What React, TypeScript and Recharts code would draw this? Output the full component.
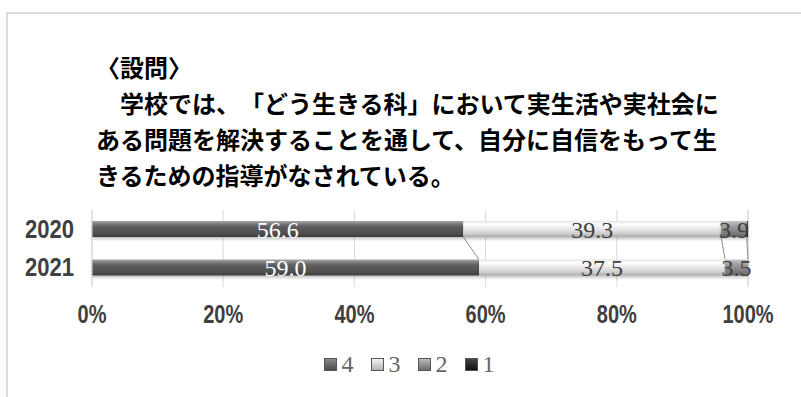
import { BarChart, Bar, XAxis, YAxis, CartesianGrid, Legend, LabelList } from "recharts";

const years = ["2020", "2021"];
const s4 = [56.6, 59.0];
const s3 = [39.3, 37.5];
const s2 = [3.9, 3.5];
const s1 = [0.2, 0.0];
const seriesKeys = ["4", "3", "2", "1"];
const xTicks = [0, 20, 40, 60, 80, 100];

const questionLines = [
  "〈設問〉",
  "\u3000学校では、「どう生きる科」において実生活や実社会に",
  "ある問題を解決することを通して、自分に自信をもって生",
  "きるための指導がなされている。",
];

const data = years.map((year, i) => ({
  year,
  "4": s4[i],
  "3": s3[i],
  "2": s2[i],
  "1": s1[i],
}));

const W = 801;
const H = 397;
const PLOT_TOP = 210;
const PLOT_H = 77;
const BAR = 16;

const fills: Record<string, string> = {
  "4": "url(#g4)",
  "3": "url(#g3)",
  "2": "url(#g2)",
  "1": "url(#g1)",
};

const legendFills: Record<string, string> = {
  "4": "linear-gradient(#8a8a8a, #4a4a4a)",
  "3": "linear-gradient(#f4f4f4, #b4b4b4)",
  "2": "linear-gradient(#bcbcbc, #6a6a6a)",
  "1": "linear-gradient(#444, #111)",
};

const axisFont = '"Liberation Sans", Arial, sans-serif';

// narrow bold tick text, like the condensed font in the original
const NarrowTick = (props: any) => {
  const { x, y, payload, anchor, fmt, sx, shiftY = 0 } = props;
  const label = fmt ? fmt(payload.value) : payload.value;
  return (
    <text
      transform={`translate(${x},${y + shiftY}) scale(${sx},1)`}
      textAnchor={anchor}
      dominantBaseline="central"
      fill="#404040"
      fontSize={25}
      fontWeight={700}
      fontFamily={axisFont}
    >
      {label}
    </text>
  );
};

// bar with an Excel-style series line to the next category
const makeShape = (key: string) => (props: any) => {
  const { x, y, width, height, payload, index, fill } = props;
  const ki = seriesKeys.indexOf(key);
  const val = payload[key];
  let line = null;
  if (index < data.length - 1 && val > 0 && key !== "1") {
    const k = width / val;
    const before = seriesKeys.slice(0, ki).reduce((s, kk) => s + payload[kk], 0);
    const x0 = x - before * k;
    const next = data[index + 1];
    const nextEnd = seriesKeys.slice(0, ki + 1).reduce((s, kk) => s + (next as any)[kk], 0);
    const gap = PLOT_H / data.length - height;
    line = (
      <line
        x1={x + width}
        y1={y + height}
        x2={x0 + nextEnd * k}
        y2={y + height + gap}
        stroke="#8c8c8c"
        strokeWidth={1}
      />
    );
  }
  return (
    <g>
      <rect x={x} y={y} width={Math.max(width, 0)} height={height} fill={fill} filter="url(#sh)" />
      {line}
    </g>
  );
};

const LegendContent = () => (
  <div style={{ display: "flex", justifyContent: "center", gap: 17 }}>
    {seriesKeys.map((k) => (
      <span key={k} style={{ display: "flex", alignItems: "center" }}>
        <span
          style={{
            width: 13,
            height: 13,
            background: legendFills[k],
            border: "1px solid #555",
            boxSizing: "border-box",
            marginRight: 5,
          }}
        />
        <span style={{ fontFamily: '"Liberation Serif", serif', fontSize: 24, color: "#666", lineHeight: "26px" }}>{k}</span>
      </span>
    ))}
  </div>
);

export default function App() {
  return (
    <div style={{ position: "absolute", left: 0, top: 0, width: W, height: H, background: "#fff", overflow: "hidden" }}>
      <div
        style={{
          position: "absolute",
          left: 6,
          top: 12,
          width: W,
          height: H,
          borderLeft: "2px solid #dcdcdc",
          borderTop: "2px solid #dcdcdc",
        }}
      />
      <div
        style={
          {
            position: "absolute",
            left: 96,
            top: 49,
            fontFamily: '"Noto Sans CJK JP", sans-serif',
            fontWeight: 700,
            fontSize: 24,
            lineHeight: "36px",
            color: "#000",
            whiteSpace: "pre",
            textSpacingTrim: "space-all",
            fontFeatureSettings: '"chws" 0, "halt" 0, "palt" 0',
          } as any
        }
      >
        {questionLines.map((t, i) => (
          <div key={i}>{t}</div>
        ))}
      </div>
      <BarChart
        width={W}
        height={H}
        data={data}
        layout="vertical"
        margin={{ top: PLOT_TOP, right: 53, bottom: H - PLOT_TOP - PLOT_H - 40, left: 0 }}
        barSize={BAR}
        style={{ position: "absolute", left: 0, top: 0 }}
      >
        <defs>
          <linearGradient id="g4" x1="0" y1="0" x2="0" y2="1">
            <stop offset="0" stopColor="#a8a8a8" />
            <stop offset="0.18" stopColor="#7c7c7c" />
            <stop offset="0.35" stopColor="#5e5e5e" />
            <stop offset="0.8" stopColor="#4e4e4e" />
            <stop offset="1" stopColor="#3a3a3a" />
          </linearGradient>
          <linearGradient id="g3" x1="0" y1="0" x2="0" y2="1">
            <stop offset="0" stopColor="#e4e4e4" />
            <stop offset="0.2" stopColor="#ffffff" />
            <stop offset="0.45" stopColor="#ebebeb" />
            <stop offset="0.8" stopColor="#cdcdcd" />
            <stop offset="1" stopColor="#a9a9a9" />
          </linearGradient>
          <linearGradient id="g2" x1="0" y1="0" x2="0" y2="1">
            <stop offset="0" stopColor="#c4c4c4" />
            <stop offset="0.35" stopColor="#9a9a9a" />
            <stop offset="1" stopColor="#676767" />
          </linearGradient>
          <linearGradient id="g1" x1="0" y1="0" x2="0" y2="1">
            <stop offset="0" stopColor="#555" />
            <stop offset="1" stopColor="#111" />
          </linearGradient>
          <filter id="sh" x="-5%" y="-30%" width="110%" height="180%">
            <feDropShadow dx="0" dy="2" stdDeviation="1.5" floodColor="#000" floodOpacity="0.25" />
          </filter>
        </defs>
        <CartesianGrid horizontal={false} stroke="#d9d9d9" />
        <XAxis
          type="number"
          domain={[0, 100]}
          ticks={xTicks}
          axisLine={false}
          tickLine={false}
          height={40}
          tick={<NarrowTick anchor="middle" sx={0.8} shiftY={20} fmt={(v: number) => `${v}%`} />}
        />
        <YAxis
          type="category"
          dataKey="year"
          width={92}
          axisLine={{ stroke: "#d9d9d9" }}
          tickLine={false}
          tickMargin={12}
          tick={<NarrowTick anchor="end" sx={0.88} />}
        />
        <Legend
          verticalAlign="middle"
          layout="horizontal"
          content={<LegendContent />}
          wrapperStyle={{ position: "absolute", top: 351, left: 0, width: 818 }}
        />
        {seriesKeys.map((k) => (
          <Bar key={k} dataKey={k} stackId="a" fill={fills[k]} shape={makeShape(k)} isAnimationActive={false}>
            {k !== "1" && (
              <LabelList
                dataKey={k}
                position="center"
                formatter={(v: any) => Number(v).toFixed(1)}
                fill={k === "4" ? "#ffffff" : "#404040"}
                fontSize={24}
                fontFamily='"Liberation Serif", serif'
              />
            )}
          </Bar>
        ))}
      </BarChart>
    </div>
  );
}
